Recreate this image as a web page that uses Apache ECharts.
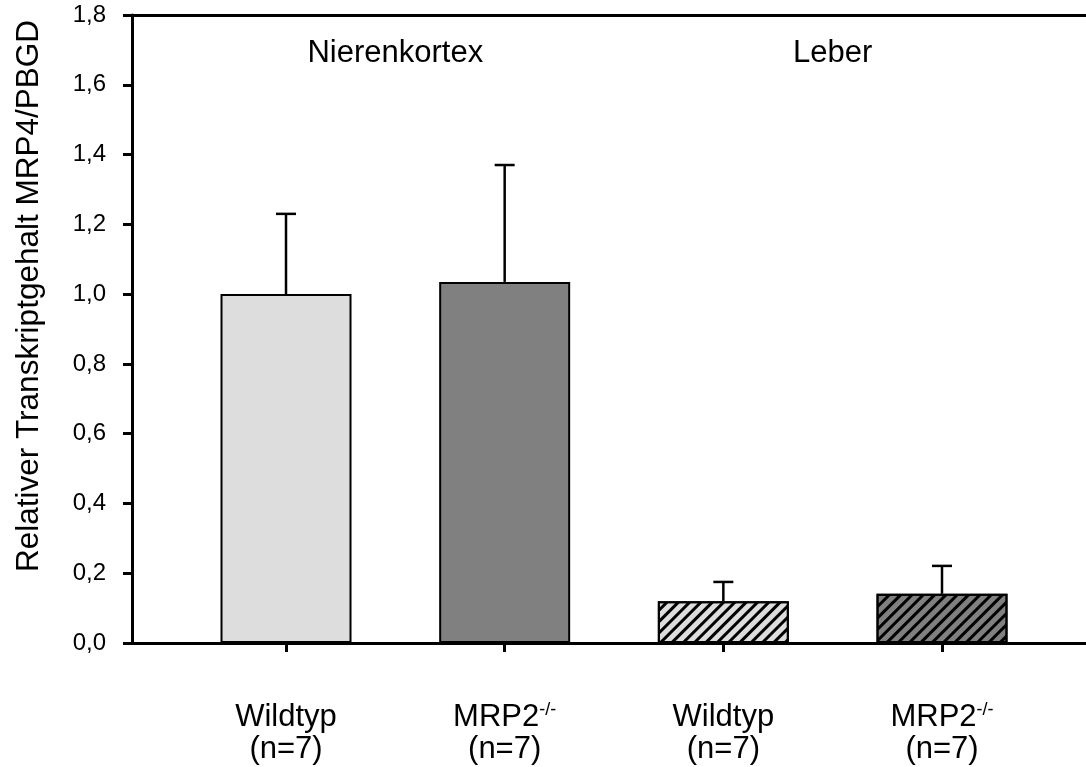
<!DOCTYPE html>
<html><head><meta charset="utf-8">
<script src="https://cdn.jsdelivr.net/npm/echarts@6/dist/echarts.min.js"></script>
<style>html,body{margin:0;padding:0;background:#fff}#c{width:1086px;height:767px}</style>
</head><body><div id="c"></div>
<script>
// ---- data ----
const categories = ['Wildtyp', 'MRP2', 'Wildtyp', 'MRP2'];
const superscripts = ['', '-/-', '', '-/-'];
const sampleSizes = [7, 7, 7, 7];
const positions = [1, 2, 3, 4];
const means = [1.0, 1.035, 0.12, 0.141];
const errors = [0.23, 0.335, 0.055, 0.08];
const groupLabels = ['Nierenkortex', 'Leber'];
const groupPositions = [1.5, 3.5];
const yTickLabels = ['0,0', '0,2', '0,4', '0,6', '0,8', '1,0', '1,2', '1,4', '1,6', '1,8'];
const yAxisTitle = 'Relativer Transkriptgehalt MRP4/PBGD';

// ---- styles ----
const FONT = 'Liberation Sans, Arial, sans-serif';
const fills = ['#dddddd', '#808080', '#dddddd', '#808080'];
const hatched = [false, false, true, true];
const hatch = { symbol: 'rect', symbolSize: 1, color: '#000', dashArrayX: [1, 0], dashArrayY: [3, 5], rotation: -Math.PI / 4 };

const chart = echarts.init(document.getElementById('c'), null, { renderer: 'canvas' });

const barData = positions.map((p, i) => ({
  value: [p, means[i]],
  itemStyle: Object.assign({ color: fills[i], borderColor: '#000', borderWidth: 2 }, hatched[i] ? { decal: hatch } : {})
}));
const errData = positions.map((p, i) => [p, means[i], means[i] + errors[i]]);
const groupData = groupPositions.map((p, i) => [p, 1.69, groupLabels[i]]);

const xMin = 0.2957, xMax = 4.6585;

chart.setOption({
  animation: false,
  backgroundColor: '#fff',
  grid: { left: 132, right: 0, top: 15, bottom: 124, containLabel: false },
  xAxis: [{
    type: 'value', min: xMin, max: xMax,
    axisLine: { show: true, lineStyle: { color: '#000', width: 3 } },
    splitLine: { show: false },
    axisTick: { show: true, customValues: positions, length: 9, lineStyle: { color: '#000', width: 3 } },
    axisLabel: {
      show: true, customValues: positions, margin: 58,
      formatter: function (v) {
        const i = positions.indexOf(Math.round(v));
        if (i < 0) return '';
        const first = superscripts[i] ? '{a|' + categories[i] + '}{s|' + superscripts[i] + '}' : '{a|' + categories[i] + '}';
        return first + '\n{a|(n=' + sampleSizes[i] + ')}';
      },
      rich: {
        a: { fontFamily: FONT, fontSize: 31, color: '#000', lineHeight: 32 },
        s: { fontFamily: FONT, fontSize: 18, color: '#000', lineHeight: 32, verticalAlign: 'top', padding: [0, 0, 14, 0] }
      }
    }
  }, {
    type: 'value', position: 'top', min: xMin, max: xMax,
    axisLine: { show: true, lineStyle: { color: '#000', width: 3 } },
    axisTick: { show: false }, axisLabel: { show: false }, splitLine: { show: false }
  }],
  yAxis: {
    type: 'value', min: 0, max: 1.8, interval: 0.2,
    name: yAxisTitle, nameLocation: 'middle', nameGap: 87,
    nameTextStyle: { fontFamily: FONT, fontSize: 31.5, color: '#000', padding: [0, 0, 0, 66] },
    axisLine: { show: true, lineStyle: { color: '#000', width: 3 } },
    axisTick: { show: true, length: 9, lineStyle: { color: '#000', width: 3 } },
    splitLine: { show: false },
    axisLabel: {
      margin: 26, fontFamily: FONT, fontSize: 24, color: '#000',
      formatter: function (v) { return yTickLabels[Math.round(v / 0.2)]; }
    }
  },
  series: [{
    type: 'bar', data: barData, barWidth: 131, z: 2
  }, {
    type: 'custom', data: errData, z: 3,
    renderItem: function (params, api) {
      const x = api.value(0);
      const b = api.coord([x, api.value(1)]);
      const t = api.coord([x, api.value(2)]);
      const st = { stroke: '#000', lineWidth: 2.5 };
      return { type: 'group', children: [
        { type: 'line', shape: { x1: b[0], y1: b[1], x2: t[0], y2: t[1] }, style: st },
        { type: 'line', shape: { x1: t[0] - 10, y1: t[1], x2: t[0] + 10, y2: t[1] }, style: st }
      ] };
    }
  }, {
    type: 'custom', data: groupData, z: 4,
    renderItem: function (params, api) {
      const p = api.coord([api.value(0), api.value(1)]);
      return { type: 'text', x: p[0], y: p[1], style: { text: groupLabels[params.dataIndex], fill: '#000', font: '31px ' + FONT, align: 'center', verticalAlign: 'middle' } };
    }
  }]
});
</script></body></html>
